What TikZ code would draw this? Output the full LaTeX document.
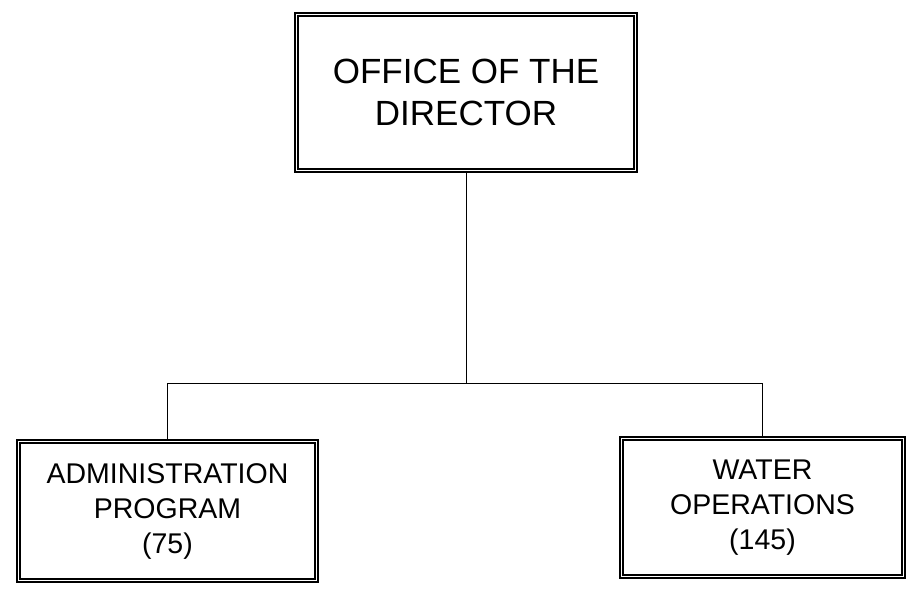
\documentclass[tikz,border=0pt]{standalone}
\usepackage{fontspec}
\setmainfont{Liberation Sans}
\usepackage{tikz}
\usetikzlibrary{positioning}

\begin{document}
\begin{tikzpicture}[x=1pt,y=1pt,thick,line width=1.2pt]
  \tikzstyle{unit}=[draw,rectangle,inner sep=0pt,align=center,
                    font=\fontsize{28.5}{35}\selectfont]

  \useasboundingbox (0,-589) rectangle (912,0);

  \node[unit,minimum width=342,minimum height=159,
        font=\fontsize{35}{41.5}\selectfont] (office) at (466,-92.5)
        {OFFICE OF THE\\DIRECTOR};
  \node[unit,minimum width=301,minimum height=142] (admin) at (167.5,-511)
        {ADMINISTRATION\\PROGRAM\\(75)};
  \node[unit,minimum width=285,minimum height=141] (water) at (762.5,-507.5)
        {WATER\\OPERATIONS\\(145)};

  % inner line of the double frames
  \foreach \n in {office,admin,water}
    \draw[line width=2.2pt] ([shift={(3.5,3.5)}]\n.south west)
      rectangle ([shift={(-3.5,-3.5)}]\n.north east);

  \coordinate (bus) at (466,-383);
  \path[draw,line width=0.9pt]
    (office.south) -- (bus)
    (bus) -| (admin.north)
    (bus) -| (water.north);
\end{tikzpicture}
\end{document}
